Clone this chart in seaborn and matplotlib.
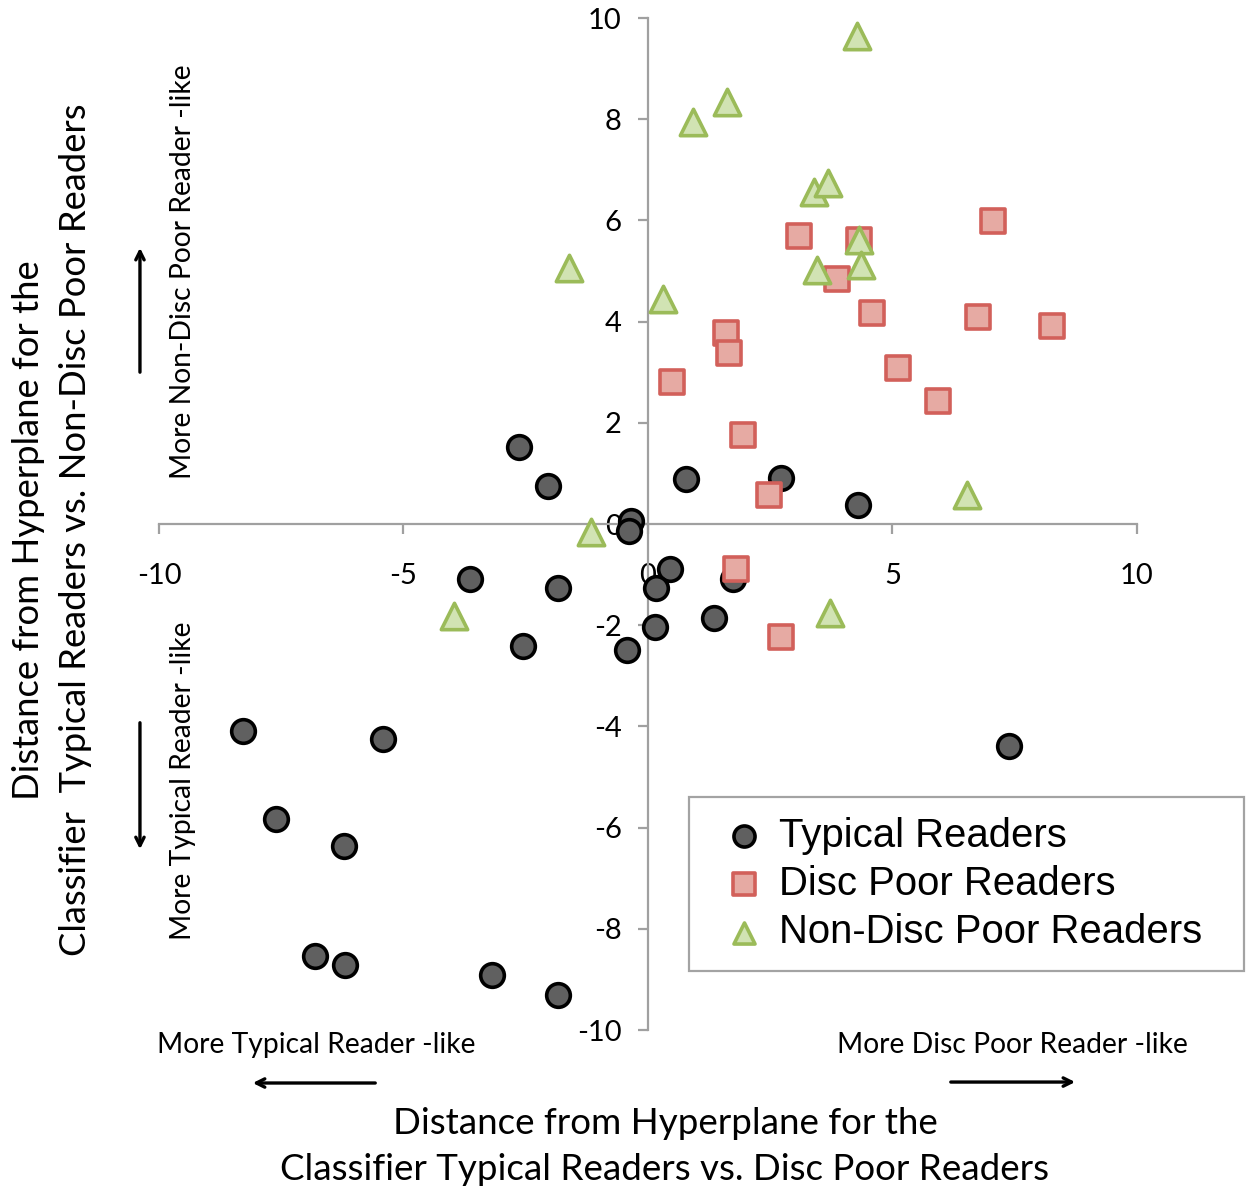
import numpy as np
import pandas as pd
import seaborn as sns
import matplotlib
matplotlib.use("Agg")
import matplotlib.pyplot as plt

# values
typical_x = [-2.63, -2.05, 0.77, 2.73, 4.30, -0.34, -0.39, -3.64, -1.85, 0.46,
             0.17, 1.74, 0.14, 1.34, -2.56, -0.42, -8.28, -5.41, -7.61, -6.22,
             -6.81, -6.19, -3.20, -1.84, 7.38]
typical_y = [1.53, 0.76, 0.89, 0.90, 0.37, 0.05, -0.14, -1.09, -1.26, -0.88,
             -1.27, -1.08, -2.03, -1.86, -2.42, -2.48, -4.09, -4.24, -5.83, -6.36,
             -8.54, -8.71, -8.92, -9.30, -4.39]

disc_x = [4.59, 6.75, 8.26, 1.60, 1.65, 0.49, 5.12, 5.93, 1.95, 2.47, 1.80, 2.73,
          3.09, 4.31, 3.86, 7.05]
disc_y = [4.17, 4.10, 3.92, 3.77, 3.37, 2.81, 3.08, 2.44, 1.76, 0.58, -0.88, -2.24,
          5.69, 5.62, 4.84, 5.99]

nondisc_x = [4.28, 0.93, 1.61, 3.39, 3.69, 4.31, 3.46, 4.35, -1.61, 0.31, 6.52,
             -1.17, -3.96, 3.73]
nondisc_y = [9.64, 7.94, 8.34, 6.56, 6.74, 5.61, 5.03, 5.12, 5.06, 4.45, 0.58,
             -0.16, -1.82, -1.76]

groups = ["Typical Readers", "Disc Poor Readers", "Non-Disc Poor Readers"]
x_ticks = [-10, -5, 0, 5, 10]
y_ticks = [-10, -8, -6, -4, -2, 0, 2, 4, 6, 8, 10]

df = pd.concat([
    pd.DataFrame({"x": typical_x, "y": typical_y, "group": groups[0]}),
    pd.DataFrame({"x": disc_x, "y": disc_y, "group": groups[1]}),
    pd.DataFrame({"x": nondisc_x, "y": nondisc_y, "group": groups[2]}),
])

sns.set_style("white")
plt.rcParams["font.family"] = ["Lato", "DejaVu Sans"]
plt.rcParams["axes.unicode_minus"] = False
for key in ["text.color", "axes.labelcolor", "xtick.labelcolor", "ytick.labelcolor"]:
    plt.rcParams[key] = "black"

styles = {
    groups[0]: dict(marker="o", s=290, color="#606060", edgecolor="#000000"),
    groups[1]: dict(marker="s", s=320, color="#e6aaa3", edgecolor="#d2605a"),
    groups[2]: dict(marker="^", s=360, color="#d1e3b3", edgecolor="#9bbb59"),
}

fig = plt.figure(figsize=(12.53, 11.93), dpi=100)
ax = fig.add_axes([0.1269, 0.1366, 0.7805, 0.8483])

for g in groups:
    sub = df[df["group"] == g]
    sns.scatterplot(data=sub, x="x", y="y", ax=ax, label=g, linewidth=2.6,
                    zorder=3, clip_on=False, **styles[g])

ax.set_xlim(-10, 10)
ax.set_ylim(-10, 10)
ax.set_xticks(x_ticks)
ax.set_yticks(y_ticks)
ax.set_xlabel("")
ax.set_ylabel("")

# cross-shaped axes through the origin
for side in ["top", "right"]:
    ax.spines[side].set_visible(False)
for side in ["left", "bottom"]:
    ax.spines[side].set_position(("data", 0))
    ax.spines[side].set_color("#a0a0a0")
    ax.spines[side].set_linewidth(1.6)
ax.tick_params(axis="x", direction="out", length=7, width=1.6, color="#a0a0a0",
               pad=21, labelsize=21)
ax.tick_params(axis="y", direction="out", length=7, width=1.6, color="#a0a0a0",
               pad=12, labelsize=21)
ax.tick_params(left=True, bottom=True)

leg = ax.legend(loc="upper left", bbox_to_anchor=(0.55, 0.1845, 0.4429, 0.1475),
                bbox_transform=fig.transFigure, mode="expand",
                frameon=True, fancybox=False, borderpad=0.5, labelspacing=0.25,
                handlelength=1.75, handletextpad=0.0, borderaxespad=0,
                prop={"family": "Liberation Sans", "size": 28.9})
leg.get_frame().set_edgecolor("#8c8c8c")
leg.get_frame().set_linewidth(1.6)
for h in leg.legend_handles:
    h.set_sizes([230])

# axis titles
fig.text(0.0415, 0.5557,
         "Distance from Hyperplane for the\nClassifier  Typical Readers vs. Non-Disc Poor Readers",
         rotation=90, ha="center", va="center", multialignment="center",
         fontsize=26.2, linespacing=1.55)
fig.text(0.5307, 0.039,
         "Distance from Hyperplane for the\nClassifier Typical Readers vs. Disc Poor Readers",
         ha="center", va="center", multialignment="center", fontsize=26.5, linespacing=1.5)

# direction hints
fig.text(0.146, 0.7724, "More Non-Disc Poor Reader -like", rotation=90,
         ha="center", va="center", fontsize=20.3)
fig.text(0.146, 0.3454, "More Typical Reader -like", rotation=90,
         ha="center", va="center", fontsize=20.3)
fig.text(0.2522, 0.124, "More Typical Reader -like", ha="center", va="center", fontsize=20.3)
fig.text(0.8077, 0.124, "More Disc Poor Reader -like", ha="center", va="center", fontsize=20.3)

arrow = dict(arrowstyle="->,head_length=0.6,head_width=0.3", color="black", lw=2.4)
for start, end in [((0.1117, 0.6857), (0.1117, 0.7946)),
                   ((0.1117, 0.3965), (0.1117, 0.2858)),
                   ((0.3017, 0.0922), (0.1995, 0.0922)),
                   ((0.7566, 0.0930), (0.8603, 0.0930))]:
    ax.annotate("", xy=end, xytext=start, xycoords="figure fraction",
                textcoords="figure fraction", arrowprops=arrow, annotation_clip=False)

fig.savefig("out.png", dpi=100)
